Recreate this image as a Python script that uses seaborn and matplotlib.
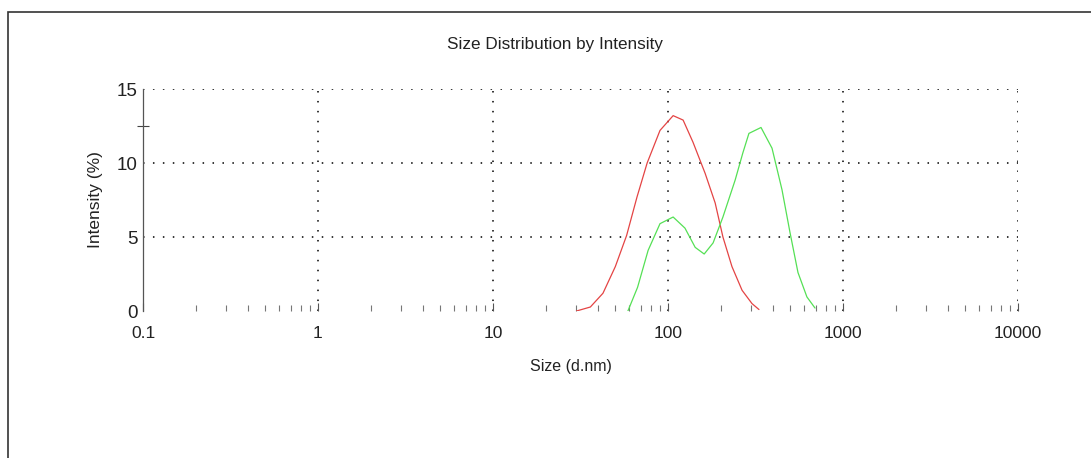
import numpy as np
import pandas as pd
import seaborn as sns
import matplotlib.pyplot as plt
from matplotlib.patches import Rectangle
from matplotlib.ticker import FixedLocator, NullFormatter

# valores (tamaño en d.nm, intensidad en %)
size_red = [30, 36, 42.5, 50, 58, 66.5, 76, 90, 107, 122, 139, 163, 186, 206, 232, 265, 302, 331]
int_red = [0, 0.27, 1.2, 3.0, 5.1, 7.7, 10.0, 12.2, 13.2, 12.9, 11.4, 9.3, 7.3, 5.0, 3.0, 1.4, 0.5, 0.1]

size_green = [59, 67, 77, 90, 107, 125, 143, 161, 181, 206, 242, 268, 290, 340, 393, 448, 498, 553, 622, 692]
int_green = [0, 1.6, 4.1, 5.9, 6.35, 5.6, 4.3, 3.85, 4.6, 6.35, 8.85, 10.7, 12.0, 12.4, 11.0, 8.2, 5.3, 2.6, 0.95, 0.2]

xticks = [0.1, 1, 10, 100, 1000, 10000]
xlabels = ["0.1", "1", "10", "100", "1000", "10000"]
yticks = [0, 5, 10, 15]

df = pd.concat([
    pd.DataFrame({"size": size_red, "intensity": int_red, "record": "A"}),
    pd.DataFrame({"size": size_green, "intensity": int_green, "record": "B"}),
])

sns.set_theme(style="white")
plt.rcParams['font.family'] = ['Liberation Sans', 'DejaVu Sans']

fig = plt.figure(figsize=(10.91, 4.58), dpi=100)
ax = fig.add_axes([143 / 1091, 1 - 311 / 458, (1018 - 143) / 1091, (311 - 89) / 458])

sns.lineplot(data=df, x="size", y="intensity", hue="record",
             palette={"A": "#e44444", "B": "#55e055"}, linewidth=0.9,
             legend=False, ax=ax, sort=False, estimator=None)

ax.set_xscale("log")
ax.set_xlim(0.1, 10000)
ax.set_ylim(0, 15)

# rejilla punteada
for x in xticks[1:]:
    ax.axvline(x, color="black", lw=1.1, ls=(0, (1, 5.5)), zorder=0)
for y in yticks[1:]:
    ax.axhline(y, color="black", lw=1.1, ls=(0, (1, 5.5)), zorder=0)

ax.set_xticks(xticks)
ax.set_xticklabels(xlabels)
minors = [m * 10.0 ** e for e in range(-1, 4) for m in range(2, 10)]
ax.xaxis.set_minor_locator(FixedLocator(minors))
ax.xaxis.set_minor_formatter(NullFormatter())
ax.tick_params(axis="x", which="major", direction="in", length=6, width=0.8,
               color="#555555", labelsize=12.5, pad=11, bottom=True)
ax.tick_params(axis="x", which="minor", direction="in", length=4, width=0.8,
               color="#777777", bottom=True)

ax.set_yticks(yticks)
ax.yaxis.set_minor_locator(FixedLocator([12.5]))
ax.tick_params(axis="y", which="major", length=0, labelsize=13.5, pad=4, left=True)
ax.tick_params(axis="y", which="minor", direction="inout", length=8, width=0.8,
               color="#444444", left=True)

for s in ["top", "right", "bottom"]:
    ax.spines[s].set_visible(False)
ax.spines["left"].set_color("#555555")
ax.spines["left"].set_linewidth(0.9)

ax.set_xlabel("Size (d.nm)", fontsize=11.5, color="#222222")
ax.xaxis.set_label_coords((571 - 143) / 875, -(359 - 311) / 222)
ax.set_ylabel("Intensity (%)", fontsize=12.5, color="#222222")
ax.yaxis.set_label_coords((103 - 143) / 875, 0.5)
ax.set_title("Size Distribution by Intensity", fontsize=12.3, pad=29, color="#222222")
ax.title.set_x((555 - 143) / 875)
for lab in ax.get_xticklabels() + ax.get_yticklabels():
    lab.set_color("#222222")

# marco de la figura (solo borde izquierdo y superior visibles)
fig.add_artist(Rectangle((8 / 1091, -0.5), 1.5, 0.5 + 1 - 12 / 458,
                         transform=fig.transFigure, fill=False,
                         edgecolor="#333333", lw=1.2))

fig.savefig("out.png", dpi=100)
